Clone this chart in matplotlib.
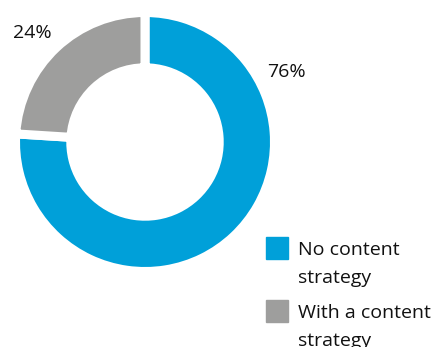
import matplotlib
matplotlib.use("Agg")
import matplotlib.pyplot as plt
from matplotlib.patches import Rectangle

categories = ["No content strategy", "With a content strategy"]
legend_lines = [["No content", "strategy"], ["With a content", "strategy"]]
values = [76, 24]
labels = ["76%", "24%"]
colors = ["#00A0D9", "#9E9E9D"]

plt.rcParams['font.family'] = ['Open Sans', 'DejaVu Sans']

W, H = 445, 347
fig = plt.figure(figsize=(W / 100, H / 100), dpi=100)
R = 129.5
cx, cy = 145, H - 142
ax = fig.add_axes([(cx - R) / W, (cy - R) / H, 2 * R / W, 2 * R / H])
wedges, _ = ax.pie(values, colors=colors, startangle=90, counterclock=False,
                   radius=1.0, wedgeprops=dict(width=0.427, edgecolor="white", linewidth=6.5))
ax.set_xlim(-1, 1)
ax.set_ylim(-1, 1)
ax.set_aspect("auto")
ax.axis("off")

fs = 14
# percentage labels
fig.text(286 / W, 1 - 72 / H, labels[0], ha="center", va="center", fontsize=fs, color="#111111")
fig.text(32 / W, 1 - 33 / H, labels[1], ha="center", va="center", fontsize=fs, color="#111111")

# legend
sq = 22
for i, (lines, col) in enumerate(zip(legend_lines, colors)):
    top = 237 + i * 63
    fig.patches.append(Rectangle((266 / W, 1 - (top + sq) / H), sq / W, sq / H,
                                 transform=fig.transFigure, color=col))
    for j, line in enumerate(lines):
        base = 255 + i * 63 + j * 28
        fig.text(298 / W, 1 - base / H, line, ha="left", va="baseline", fontsize=fs,
                 color="#111111")

fig.savefig("out.png", dpi=100)
